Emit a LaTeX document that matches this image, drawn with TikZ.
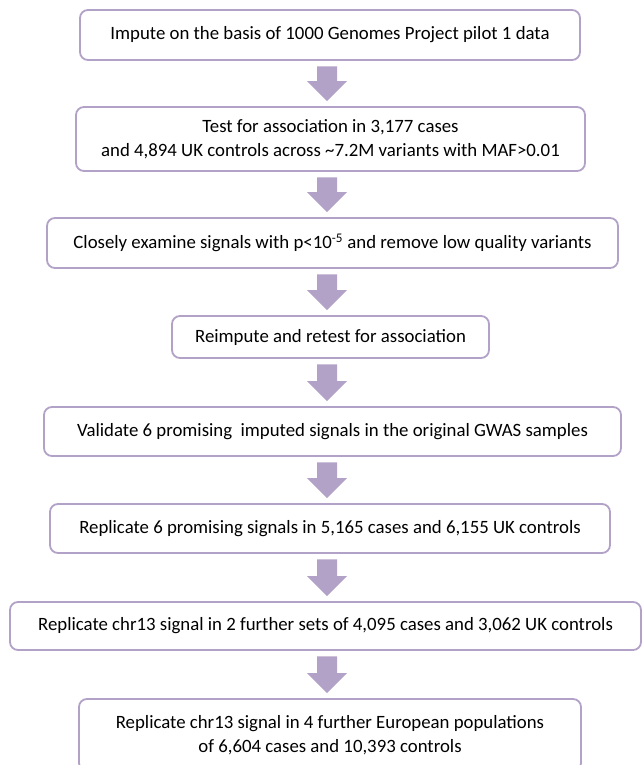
\documentclass[tikz,border=0pt]{standalone}
\usepackage{fontspec}
\setmainfont{Carlito}
\usetikzlibrary{calc}

\definecolor{lilac}{HTML}{B3A2C7}
\tikzset{
  stage/.style={draw=lilac, line width=1.8pt, rounded corners=8pt, fill=white,
    align=center, inner sep=0pt, font=\fontsize{18.8}{23.5}\selectfont},
}
% fat down arrow in the gap between two boxes
\newcommand{\fatdown}[2]{%
  \fill[lilac] let \p1=(#1.south), \p2=(#2.north) in
    ({317pt},{\y1-5.5pt}) -- ({337pt},{\y1-5.5pt}) -- ({337pt},{\y2+25pt})
    -- ({347pt},{\y2+25pt}) -- ({327pt},{\y2+5pt}) -- ({307pt},{\y2+25pt})
    -- ({317pt},{\y2+25pt}) -- cycle;}

\begin{document}
\begin{tikzpicture}[x=1pt, y=-1pt]
\useasboundingbox (0,0) rectangle (642,765);

\node [stage, minimum width=500pt, minimum height=50pt] (imp) at (330,35)
  {Impute on the basis of 1000 Genomes Project pilot 1 data};
\node [stage, minimum width=509pt, minimum height=64pt] (test) at (330.5,139)
  {Test for association in 3,177 cases\\and 4,894 UK controls across \textasciitilde7.2M variants with MAF>0.01};
\node [stage, minimum width=571pt, minimum height=50pt] (exam) at (332.5,243)
  {Closely examine signals with p<10\textsuperscript{-5} and remove low quality variants};
\node [stage, minimum width=317pt, minimum height=42pt] (reimp) at (330.5,337)
  {Reimpute and retest for association};
\node [stage, minimum width=577pt, minimum height=49pt] (valid) at (332.5,431.5)
  {Validate 6 promising\ \ imputed signals in the original GWAS samples};
\node [stage, minimum width=560pt, minimum height=49pt] (repsix) at (330,528.5)
  {Replicate 6 promising signals in 5,165 cases and 6,155 UK controls};
\node [stage, minimum width=631pt, minimum height=48pt] (repuk) at (325.5,626)
  {Replicate chr13 signal in 2 further sets of 4,095 cases and 3,062 UK controls};
\node [stage, minimum width=502pt, minimum height=72pt] (repeu) at (330,735)
  {Replicate chr13 signal in 4 further European populations\\of 6,604 cases and 10,393 controls};

\foreach \a/\b in {imp/test, test/exam, exam/reimp, reimp/valid, valid/repsix, repsix/repuk, repuk/repeu}
  \fatdown{\a}{\b};
\end{tikzpicture}
\end{document}
